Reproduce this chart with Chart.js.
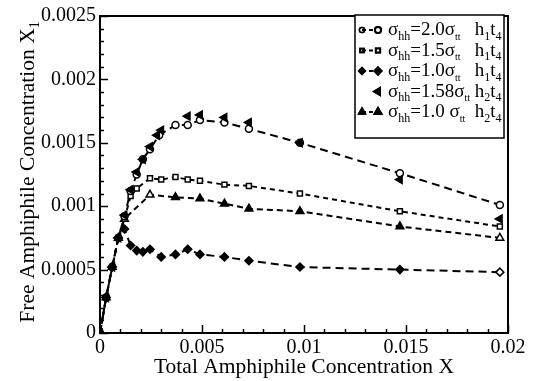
<!DOCTYPE html>
<html>
<head>
<meta charset="utf-8">
<script src="https://cdn.jsdelivr.net/npm/chart.js@4"></script>
<style>
  html, body { margin: 0; padding: 0; background: #fff; }
  #wrap { width: 538px; height: 381px; }
</style>
</head>
<body>
<div id="wrap"><canvas id="chart" width="538" height="381"></canvas></div>
<script>
// sigma_hh = 2.0 sigma_tt, h1t4 (open circles)
const circleX = [0, 0.0003, 0.0006, 0.0009, 0.0012, 0.0015, 0.0018, 0.0021, 0.00245, 0.0029, 0.0037, 0.0043, 0.0049, 0.0061, 0.0073, 0.0098, 0.0147, 0.0196];
const circleY = [0, 0.00028, 0.00052, 0.00075, 0.00092, 0.00112, 0.00125, 0.00137, 0.00145, 0.00156, 0.00164, 0.00164, 0.00168, 0.00166, 0.00161, 0.0015, 0.00126, 0.00101];
// sigma_hh = 1.5 sigma_tt, h1t4 (open squares)
const squareX = [0, 0.0003, 0.0006, 0.0009, 0.0012, 0.0015, 0.0018, 0.00245, 0.003, 0.0037, 0.0043, 0.0049, 0.0061, 0.0073, 0.0098, 0.0147, 0.0196];
const squareY = [0, 0.00028, 0.00052, 0.00075, 0.0009, 0.00108, 0.00114, 0.00122, 0.00121, 0.00123, 0.00121, 0.0012, 0.00117, 0.00116, 0.0011, 0.00096, 0.00084];
// sigma_hh = 1.0 sigma_tt, h1t4 (diamonds)
const diamondX = [0, 0.0003, 0.0006, 0.0009, 0.0012, 0.0015, 0.0018, 0.0021, 0.00245, 0.003, 0.0037, 0.0043, 0.0049, 0.0061, 0.0073, 0.0098, 0.0147, 0.0196];
const diamondY = [0, 0.00028, 0.00052, 0.00075, 0.00082, 0.00069, 0.00065, 0.00064, 0.00066, 0.0006, 0.00062, 0.00066, 0.00062, 0.0006, 0.00057, 0.00052, 0.0005, 0.00048];
// sigma_hh = 1.58 sigma_tt, h2t4 (left triangles, no line)
const leftTriX = [0, 0.0003, 0.0006, 0.0009, 0.0012, 0.0015, 0.0018, 0.0021, 0.00245, 0.0028, 0.003, 0.0043, 0.0049, 0.0061, 0.0073, 0.0098, 0.0147, 0.0196];
const leftTriY = [0, 0.00028, 0.00052, 0.00075, 0.00093, 0.00113, 0.00127, 0.00137, 0.00147, 0.00156, 0.0016, 0.00171, 0.00172, 0.0017, 0.00166, 0.0015, 0.00121, 0.0009];
// sigma_hh = 1.0 sigma_tt, h2t4 (up triangles)
const triX = [0, 0.0003, 0.0006, 0.0009, 0.0012, 0.00245, 0.0037, 0.0049, 0.0061, 0.0073, 0.0098, 0.0147, 0.0196];
const triY = [0, 0.00028, 0.00052, 0.00075, 0.0009, 0.00109, 0.00107, 0.00106, 0.00102, 0.00098, 0.00096, 0.00084, 0.00075];

const xTicks = [0, 0.005, 0.01, 0.015, 0.02];
const yTicks = [0, 0.0005, 0.001, 0.0015, 0.002, 0.0025];

const FONT = '"Liberation Serif", "DejaVu Serif", serif';

function pts(xs, ys) {
    return xs.map((x, i) => ({ x: x, y: ys[i] }));
}

// fill colours: mostly solid, a few open symbols like the original
const diamondFill = diamondY.map((v, i) => i === diamondY.length - 1 ? '#fff' : '#000');
const triFill = triY.map((v, i) => (i === 5 || i === triY.length - 1) ? '#fff' : '#000');

// text with subscripts, parts = [[text, kind]]  kind 0 normal, 1 subscript, 2 small subscript
function partFont(kind, size) {
    const s = kind === 0 ? size : kind === 1 ? Math.round(size * 0.64) : Math.round(size * 0.5);
    return s + 'px ' + FONT;
}
function drawRich(ctx, x, y, parts, size) {
    let cx = x;
    parts.forEach(p => {
        ctx.font = partFont(p[1], size);
        ctx.fillText(p[0], cx, p[1] ? y + size * 0.25 : y);
        cx += ctx.measureText(p[0]).width;
    });
    return cx - x;
}
function richWidth(ctx, parts, size) {
    let w = 0;
    parts.forEach(p => {
        ctx.font = partFont(p[1], size);
        w += ctx.measureText(p[0]).width;
    });
    return w;
}

const legendRows = [
    { style: 'circle', fill: '#fff', line: true, r: 3, parts: [['σ', 0], ['hh', 1], ['=2.0σ', 0], ['tt', 2], ['   h', 0], ['1', 1], ['t', 0], ['4', 1]] },
    { style: 'rect', fill: '#fff', line: true, r: 3, parts: [['σ', 0], ['hh', 1], ['=1.5σ', 0], ['tt', 2], ['   h', 0], ['1', 1], ['t', 0], ['4', 1]] },
    { style: 'rectRot', fill: '#000', line: true, r: 3.5, parts: [['σ', 0], ['hh', 1], ['=1.0σ', 0], ['tt', 2], ['   h', 0], ['1', 1], ['t', 0], ['4', 1]] },
    { style: 'triangle', rot: -90, fill: '#000', line: false, r: 4, parts: [['σ', 0], ['hh', 1], ['=1.58σ', 0], ['tt', 2], [' h', 0], ['2', 1], ['t', 0], ['4', 1]] },
    { style: 'triangle', fill: '#000', line: true, r: 4, parts: [['σ', 0], ['hh', 1], ['=1.0 σ', 0], ['tt', 2], ['  h', 0], ['2', 1], ['t', 0], ['4', 1]] }
];

function marker(ctx, row, x, y, r) {
    Chart.helpers.drawPoint(ctx, { pointStyle: row.style, radius: r, borderWidth: 1.5, rotation: row.rot || 0 }, x, y);
    ctx.fillStyle = row.fill;
    ctx.fill();
    ctx.stroke();
}

const decorPlugin = {
    id: 'decor',
    afterDraw(chart) {
        const ctx = chart.ctx;
        const a = chart.chartArea;
        const xs = chart.scales.x, ys = chart.scales.y;
        ctx.save();
        ctx.strokeStyle = '#000';
        ctx.fillStyle = '#000';
        ctx.setLineDash([]);
        // frame
        ctx.lineWidth = 2;
        ctx.strokeRect(a.left, a.top, a.right - a.left, a.bottom - a.top);
        // inward ticks
        ctx.lineWidth = 1.5;
        for (let i = 0; i <= 20; i++) {
            const px = Math.round(xs.getPixelForValue(i * 0.001)) + 0.5;
            const len = i % 5 === 0 ? 8 : 4;
            ctx.beginPath(); ctx.moveTo(px, a.bottom); ctx.lineTo(px, a.bottom - len); ctx.stroke();
        }
        for (let i = 0; i <= 25; i++) {
            const py = Math.round(ys.getPixelForValue(i * 0.0001)) + 0.5;
            const len = i % 5 === 0 ? 8 : 4;
            ctx.beginPath(); ctx.moveTo(a.left, py); ctx.lineTo(a.left + len, py); ctx.stroke();
        }
        // axis titles
        ctx.textBaseline = 'alphabetic';
        ctx.textAlign = 'left';
        ctx.fillStyle = '#000';
        const xt = [['Total Amphiphile Concentration X', 0]];
        const xw = richWidth(ctx, xt, 21.5);
        drawRich(ctx, (a.left + a.right) / 2 - xw / 2, 373, xt, 21.5);
        const yt = [['Free Amphiphile Concentration X', 0], ['1', 1]];
        const yw = richWidth(ctx, yt, 21.5);
        ctx.save();
        ctx.translate(34, 172);
        ctx.rotate(-Math.PI / 2);
        drawRich(ctx, -yw / 2, 0, yt, 21.5);
        ctx.restore();
        // legend
        const bx = 355, by = 15, bw = 149, bh = 123;
        ctx.fillStyle = '#fff';
        ctx.fillRect(bx, by, bw, bh);
        ctx.lineWidth = 1.5;
        ctx.strokeRect(bx, by, bw, bh);
        legendRows.forEach((row, i) => {
            const base = 35 + i * 20.5;
            const cy = base - 5;
            if (row.line) {
                marker(ctx, row, 362, cy, row.r * 0.85);
                ctx.lineWidth = 2;
                ctx.setLineDash([4, 3]);
                ctx.beginPath(); ctx.moveTo(362, cy); ctx.lineTo(378, cy); ctx.stroke();
                ctx.setLineDash([]);
            }
            marker(ctx, row, 378, cy, row.r);
            ctx.fillStyle = '#000';
            drawRich(ctx, 388, base, row.parts, 19);
        });
        ctx.restore();
    }
};

const common = {
    borderColor: '#000',
    pointBorderColor: '#000',
    borderWidth: 2,
    pointBorderWidth: 1.5,
    fill: false,
    tension: 0
};

new Chart(document.getElementById('chart').getContext('2d'), {
    type: 'scatter',
    data: {
        datasets: [
            Object.assign({}, common, {
                label: 'σhh=1.58σtt h2t4', data: pts(leftTriX, leftTriY), showLine: false,
                pointStyle: 'triangle', rotation: -90, pointRadius: 4.5, pointBackgroundColor: '#000', order: 1
            }),
            Object.assign({}, common, {
                label: 'σhh=2.0σtt h1t4', data: pts(circleX, circleY), showLine: true, borderDash: [8, 5],
                pointStyle: 'circle', pointRadius: 3.5, pointBackgroundColor: '#fff', order: 2
            }),
            Object.assign({}, common, {
                label: 'σhh=1.5σtt h1t4', data: pts(squareX, squareY), showLine: true, borderDash: [5, 4],
                pointStyle: 'rect', pointRadius: 3.5, pointBackgroundColor: '#fff', order: 3
            }),
            Object.assign({}, common, {
                label: 'σhh=1.0σtt h2t4', data: pts(triX, triY), showLine: true, borderDash: [6, 4],
                pointStyle: 'triangle', pointRadius: 4.5, pointBackgroundColor: triFill, order: 4
            }),
            Object.assign({}, common, {
                label: 'σhh=1.0σtt h1t4', data: pts(diamondX, diamondY), showLine: true, borderDash: [8, 5],
                pointStyle: 'rectRot', pointRadius: 4, pointBackgroundColor: diamondFill, order: 5
            })
        ]
    },
    options: {
        responsive: false,
        animation: false,
        devicePixelRatio: 1,
        layout: { padding: { left: 0, right: 30, top: 13, bottom: 0 } },
        plugins: { legend: { display: false }, tooltip: { enabled: false } },
        scales: {
            x: {
                type: 'linear', min: 0, max: 0.02,
                afterFit: s => { s.height = 48; },
                afterBuildTicks: s => { s.ticks = xTicks.map(v => ({ value: v })); },
                grid: { display: false, drawTicks: false },
                border: { display: false },
                ticks: {
                    color: '#000', padding: 3, maxRotation: 0,
                    font: { family: FONT, size: 20 },
                    callback: v => String(+v.toFixed(4))
                }
            },
            y: {
                type: 'linear', min: 0, max: 0.0025,
                afterFit: s => { s.width = 100; },
                afterBuildTicks: s => { s.ticks = yTicks.map(v => ({ value: v })); },
                grid: { display: false, drawTicks: false },
                border: { display: false },
                ticks: {
                    color: '#000', padding: 4,
                    font: { family: FONT, size: 20 },
                    callback: v => String(+v.toFixed(4))
                }
            }
        }
    },
    plugins: [decorPlugin]
});
</script>
</body>
</html>
